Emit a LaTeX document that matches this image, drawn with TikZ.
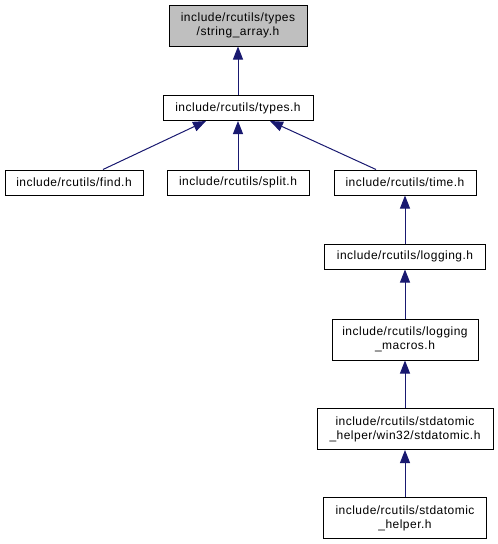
\documentclass[tikz,border=0pt]{standalone}
\usepackage{fontspec}
\setmainfont{Liberation Sans}[LetterSpace=4]
\usetikzlibrary{arrows.meta}
\definecolor{edgeblue}{HTML}{191970}
\definecolor{boxgray}{HTML}{BFBFBF}
\tikzset{
  file/.style={draw=black, line width=1pt, fill=white, inner sep=0pt, align=center,
    font=\fontsize{12}{14}\selectfont},
  one/.style={file, minimum height=25pt},
  two/.style={file, minimum height=41pt},
  dep/.style={draw=edgeblue, line width=1pt, {Triangle[length=13pt,width=10pt,fill=edgeblue]}-},
}
\begin{document}
\begin{tikzpicture}[x=1pt,y=-1pt]
\useasboundingbox (0,0) rectangle (498,544);
\node[two, fill=boxgray, minimum width=138pt] (sa) at (238,25.5) {include/rcutils/types\\/string\_array.h};
\node[one, minimum width=150pt] (types) at (238,108) {include/rcutils/types.h};
\node[one, minimum width=138pt] (find) at (74,182.5) {include/rcutils/find.h};
\node[one, minimum width=142pt] (split) at (238,182.5) {include/rcutils/split.h};
\node[one, minimum width=142pt] (time) at (405,182.5) {include/rcutils/time.h};
\node[one, minimum width=161pt] (logging) at (405,256.5) {include/rcutils/logging.h};
\node[two, minimum width=146pt] (macros) at (405,339.5) {include/rcutils/logging\\\_macros.h};
\node[two, minimum width=176pt] (win) at (405,429) {include/rcutils/stdatomic\\\_helper/win32/stdatomic.h};
\node[two, minimum width=163pt] (helper) at (405,518) {include/rcutils/stdatomic\\\_helper.h};
\draw[dep] (sa) -- (types);
\draw[dep] ([xshift=-32pt]types.south) -- ([xshift=29pt]find.north);
\draw[dep] (types) -- (split);
\draw[dep] ([xshift=32pt]types.south) -- ([xshift=-29pt]time.north);
\draw[dep] (time) -- (logging);
\draw[dep] (logging) -- (macros);
\draw[dep] (macros) -- (win);
\draw[dep] (win) -- (helper);
\end{tikzpicture}
\end{document}
